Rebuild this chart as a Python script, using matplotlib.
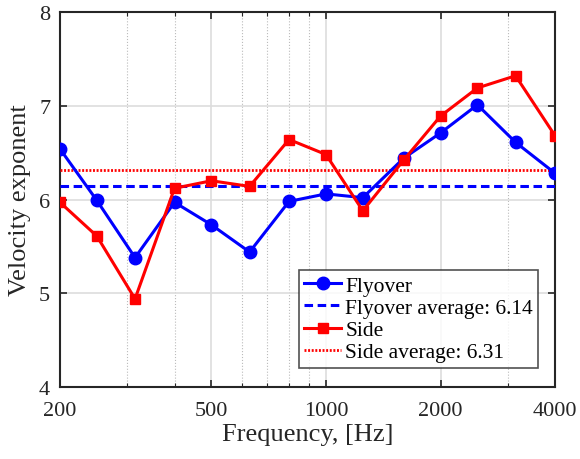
import numpy as np
import matplotlib.pyplot as plt
from matplotlib.ticker import FixedLocator, NullFormatter

plt.rcParams['font.family'] = ['Liberation Serif', 'DejaVu Serif']
plt.rcParams['mathtext.fontset'] = 'stix'

# third-octave band centre frequencies
freq = [200, 250, 315, 400, 500, 630, 800, 1000, 1250, 1600, 2000, 2500, 3150, 4000]
flyover = [6.54, 5.99, 5.38, 5.97, 5.73, 5.44, 5.98, 6.06, 6.02, 6.44, 6.71, 7.01, 6.61, 6.28]
side = [5.97, 5.61, 4.94, 6.12, 6.20, 6.14, 6.64, 6.48, 5.88, 6.42, 6.89, 7.19, 7.32, 6.68]
flyover_avg = 6.14
side_avg = 6.31

xticks = [200, 500, 1000, 2000, 4000]
minor_grid = [300, 400, 600, 700, 800, 900, 3000]

fig = plt.figure(figsize=(5.8, 4.6), dpi=100)
ax = fig.add_axes([0.1034, 0.1565, 0.8536, 0.8152])

ax.plot(freq, flyover, 'b-o', lw=2.2, ms=9, label='Flyover', zorder=4)
ax.plot([freq[0], freq[-1]], [flyover_avg, flyover_avg], color='b', lw=2.2,
        ls=(0, (2.8, 1.5)), label=f'Flyover average: {flyover_avg:.2f}', zorder=3)
ax.plot(freq, side, 'r-s', lw=2.2, ms=7.5, label='Side', zorder=4)
ax.plot([freq[0], freq[-1]], [side_avg, side_avg], color='r', lw=2.0,
        ls=(0, (0.7, 0.6)), label=f'Side average: {side_avg:.2f}', zorder=3)

ax.set_xscale('log')
ax.set_xlim(200, 4000)
ax.set_ylim(4, 8)
ax.xaxis.set_major_locator(FixedLocator(xticks))
ax.set_xticklabels([str(t) for t in xticks])
ax.xaxis.set_minor_locator(FixedLocator(minor_grid))
ax.xaxis.set_minor_formatter(NullFormatter())
ax.set_yticks([4, 5, 6, 7, 8])

ax.grid(True, which='major', color='#dddddd', lw=1.2, zorder=0)
ax.grid(True, which='minor', axis='x', color='#bbbbbb', lw=0.8, ls=':', zorder=0)
ax.set_axisbelow(True)

ax.tick_params(which='both', direction='in', top=True, right=True, labelsize=16,
               color='#262626')
ax.tick_params(which='major', length=5, width=1.2)
ax.tick_params(axis='x', which='major', pad=10)
ax.tick_params(axis='y', which='major', pad=7)
ax.tick_params(which='minor', length=3, width=0.8)
for s in ax.spines.values():
    s.set_linewidth(1.5)
    s.set_color('#262626')

ax.set_xlabel('Frequency, [Hz]', fontsize=19, color='#262626', labelpad=2)
ax.set_ylabel('Velocity exponent', fontsize=19, color='#262626', labelpad=6)
for lab in ax.get_xticklabels() + ax.get_yticklabels():
    lab.set_color('#262626')

leg = ax.legend(loc='lower right', bbox_to_anchor=(0.975, 0.04), fontsize=15.5,
                frameon=True, fancybox=False, edgecolor='#262626',
                handlelength=1.7, handletextpad=0.2, borderpad=0.25,
                labelspacing=0.1, borderaxespad=0.2)
leg.get_frame().set_linewidth(1.2)

fig.savefig('out.png', dpi=100)
